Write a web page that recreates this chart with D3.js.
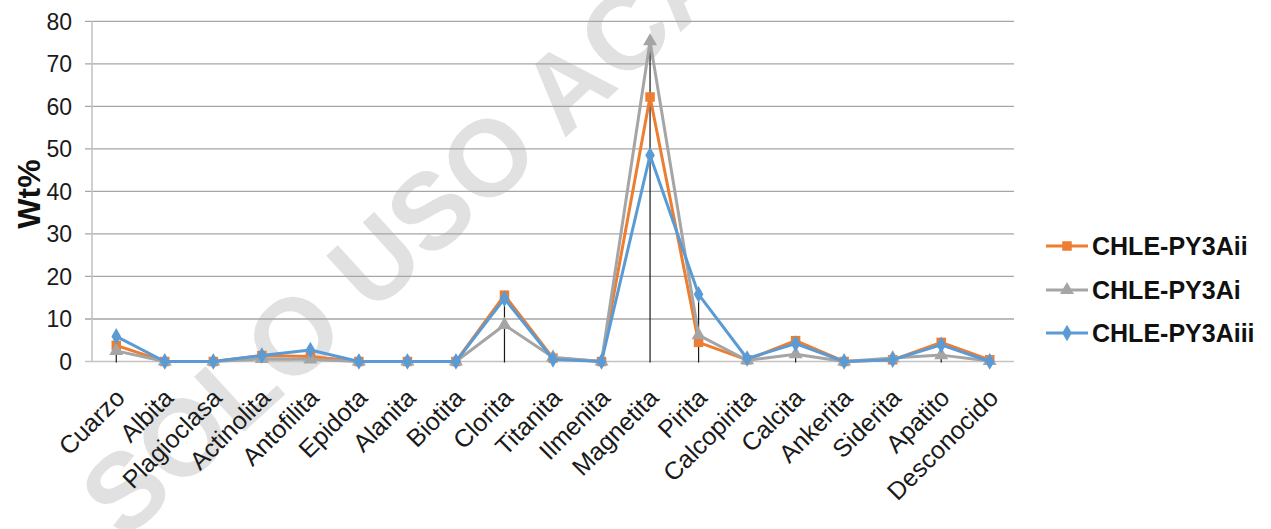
<!DOCTYPE html>
<html lang="es">
<head>
    <meta charset="UTF-8">
    <title>Wt% minerales</title>
    <script src="https://d3js.org/d3.v7.min.js"></script>
    <style>
        body { margin: 0; background: #fff; }
        svg text { font-family: "Liberation Sans", Arial, sans-serif; }
        .grid line { stroke: #a6a6a6; stroke-width: 1.3px; }
        .tick-label { font-size: 23px; fill: #1a1a1a; }
        .cat-label { font-size: 25px; fill: #1a1a1a; }
        .legend text { font-size: 25px; font-weight: bold; fill: #111; }
    </style>
</head>
<body>
    <svg width="1271" height="529"></svg>
    <script>
        // data
        const categories = ["Cuarzo", "Albita", "Plagioclasa", "Actinolita", "Antofilita", "Epidota",
            "Alanita", "Biotita", "Clorita", "Titanita", "Ilmenita", "Magnetita", "Pirita",
            "Calcopirita", "Calcita", "Ankerita", "Siderita", "Apatito", "Desconocido"];
        const seriesNames = ["CHLE-PY3Aii", "CHLE-PY3Ai", "CHLE-PY3Aiii"];
        const py3aii  = [3.8, 0, 0, 1.4, 1.2, 0, 0, 0, 15.6, 0.8, 0, 62.2, 4.5, 0.4, 4.9, 0, 0.4, 4.5, 0.4];
        const py3ai   = [2.5, 0, 0, 0.6, 0.5, 0, 0, 0, 8.6, 1.0, 0, 75.3, 6.2, 0.3, 1.7, 0, 0.8, 1.5, 0.1];
        const py3aiii = [5.9, 0, 0, 1.4, 2.7, 0, 0, 0, 14.8, 0.5, 0, 48.5, 15.8, 0.7, 4.2, 0, 0.4, 3.9, 0];
        const yTicks = [0, 10, 20, 30, 40, 50, 60, 70, 80];

        const colors = ["#ED7D31", "#A5A5A5", "#5B9BD5"];
        const symbols = [d3.symbolSquare, d3.symbolTriangle, d3.symbolDiamond];
        const symSize = [90, 85, 80];
        const allSeries = [py3aii, py3ai, py3aiii];

        const svg = d3.select("svg");
        const plotL = 92, plotR = 1014, plotT = 21.3, plotB = 361.5;

        const x = d3.scaleBand().domain(categories).range([plotL, plotR]);
        const y = d3.scaleLinear().domain([0, 80]).range([plotB, plotT]);
        const cx = d => x(d) + x.bandwidth() / 2;

        // watermark behind everything
        svg.append("text")
            .attr("transform", "translate(124,542) rotate(-42.5)")
            .attr("font-size", 108)
            .attr("font-weight", "bold")
            .attr("fill", "#e1e1e1")
            .text("SOLO USO ACADÉMICO");

        // gridlines + little ticks to the left
        svg.append("g").attr("class", "grid")
            .selectAll("line")
            .data(yTicks.filter(t => t > 0))
            .enter().append("line")
            .attr("x1", plotL - 7).attr("x2", plotR)
            .attr("y1", d => y(d)).attr("y2", d => y(d));

        // axes
        svg.append("line")
            .attr("x1", plotL).attr("x2", plotL).attr("y1", plotT).attr("y2", plotB)
            .attr("stroke", "#c4c4c4").attr("stroke-width", 1.6);
        svg.append("line")
            .attr("x1", plotL - 7).attr("x2", plotR).attr("y1", plotB).attr("y2", plotB)
            .attr("stroke", "#c4c4c4").attr("stroke-width", 1.6);

        svg.selectAll(".tick-label")
            .data(yTicks)
            .enter().append("text")
            .attr("class", "tick-label")
            .attr("x", 72)
            .attr("y", d => y(d))
            .attr("dy", "0.36em")
            .attr("text-anchor", "end")
            .text(d => d);

        svg.append("text")
            .attr("transform", "translate(40,194) rotate(-90)")
            .attr("text-anchor", "middle")
            .attr("font-size", 32)
            .attr("font-weight", "bold")
            .attr("fill", "#111")
            .text("Wt%");

        svg.selectAll(".cat-label")
            .data(categories)
            .enter().append("text")
            .attr("class", "cat-label")
            .attr("text-anchor", "end")
            .attr("transform", d => `translate(${cx(d) + 10},${plotB + 38}) rotate(-45)`)
            .text(d => d);

        // drop lines from the highest point of each category
        svg.selectAll(".drop")
            .data(categories)
            .enter().append("line")
            .attr("class", "drop")
            .attr("x1", d => cx(d)).attr("x2", d => cx(d))
            .attr("y1", (d, i) => y(d3.max(allSeries, s => s[i])))
            .attr("y2", plotB + 1)
            .attr("stroke", "#1a1a1a").attr("stroke-width", 1.2);

        const line = d3.line()
            .x((d, i) => cx(categories[i]))
            .y(d => y(d));

        allSeries.forEach((vals, k) => {
            svg.append("path")
                .datum(vals)
                .attr("d", line)
                .attr("fill", "none")
                .attr("stroke", colors[k])
                .attr("stroke-width", 3)
                .attr("stroke-linejoin", "round");
            svg.selectAll(".m" + k)
                .data(vals)
                .enter().append("path")
                .attr("class", "m" + k)
                .attr("d", d3.symbol().type(symbols[k]).size(symSize[k]))
                .attr("transform", (d, i) => `translate(${cx(categories[i])},${y(d)})`)
                .attr("fill", colors[k]);
        });

        // legend
        const legendY = [246, 290, 333];
        const legend = svg.append("g").attr("class", "legend")
            .selectAll("g")
            .data(seriesNames)
            .enter().append("g")
            .attr("transform", (d, i) => `translate(1046,${legendY[i]})`);
        legend.append("line")
            .attr("x1", 0).attr("x2", 42)
            .attr("stroke", (d, i) => colors[i])
            .attr("stroke-width", 3);
        legend.append("path")
            .attr("d", (d, i) => d3.symbol().type(symbols[i]).size(symSize[i])())
            .attr("transform", "translate(21,0)")
            .attr("fill", (d, i) => colors[i]);
        legend.append("text")
            .attr("x", 46)
            .attr("dy", "0.36em")
            .text(d => d);
    </script>
</body>
</html>
